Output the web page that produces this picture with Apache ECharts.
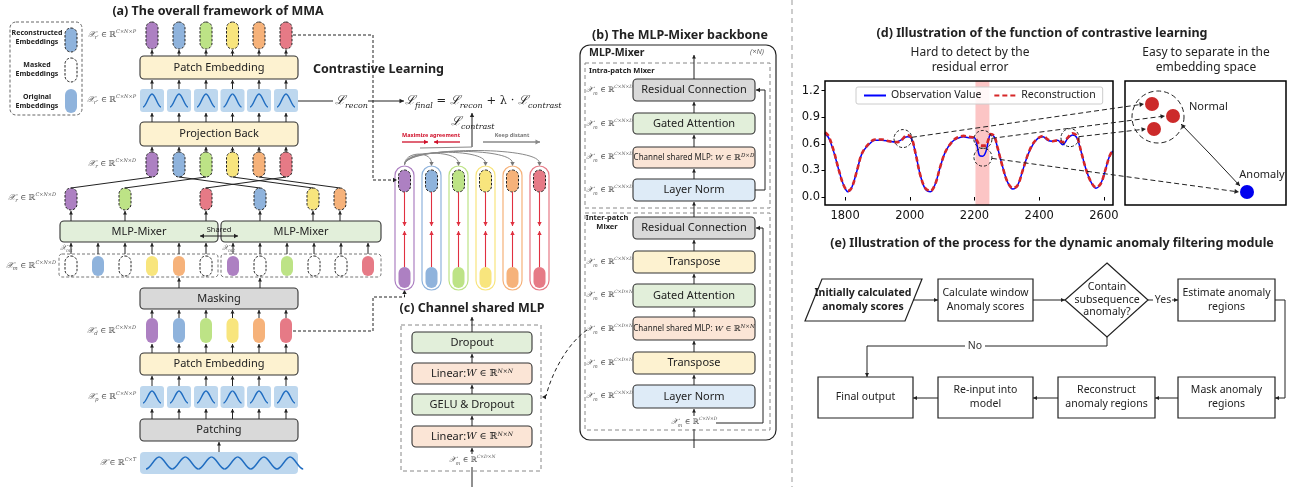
<!DOCTYPE html>
<html><head><meta charset="utf-8">
<script src="https://cdn.jsdelivr.net/npm/echarts@6/dist/echarts.min.js"></script>
<style>html,body{margin:0;padding:0;background:#fff}#c{width:1293px;height:487px}</style>
</head><body><div id="c"></div>
<script>
// ---------- panel (d) data ----------
const timeIndex = [1738,1749,1765,1781,1796,1809,1821,1837,1852,1873,1893,1914,1935,1955,1971,1992,2005,2018,2033,2048,2064,2079,2094,2110,2130,2146,2166,2182,2199,2207,2215,2225,2235,2243,2250,2261,2271,2287,2302,2318,2333,2349,2364,2380,2395,2412,2426,2442,2457,2473,2488,2503,2516,2529,2544,2560,2575,2590,2604,2616,2627];
const observation = [0.71,0.67,0.51,0.30,0.13,0.06,0.11,0.30,0.49,0.59,0.64,0.64,0.63,0.62,0.64,0.68,0.66,0.49,0.24,0.09,0.06,0.15,0.34,0.51,0.62,0.66,0.68,0.67,0.67,0.60,0.47,0.46,0.51,0.64,0.71,0.68,0.56,0.34,0.17,0.09,0.13,0.30,0.47,0.59,0.66,0.68,0.64,0.63,0.64,0.59,0.66,0.70,0.67,0.52,0.32,0.17,0.10,0.15,0.30,0.45,0.52];
const reconstruction = [0.73,0.69,0.52,0.30,0.13,0.07,0.11,0.30,0.49,0.60,0.65,0.65,0.63,0.62,0.63,0.70,0.67,0.49,0.24,0.10,0.07,0.15,0.34,0.51,0.62,0.67,0.69,0.68,0.67,0.64,0.59,0.58,0.58,0.65,0.71,0.69,0.56,0.34,0.17,0.10,0.13,0.30,0.47,0.60,0.66,0.69,0.65,0.63,0.64,0.62,0.67,0.72,0.69,0.52,0.32,0.17,0.11,0.15,0.30,0.45,0.53];
const xTickValues = [1800,2000,2200,2400,2600];
const yTickValues = [0.0,0.3,0.6,0.9,1.2];
const anomalyBand = [2203,2246];
const seriesNames = ['Observation Value','Reconstruction'];
const circledPoints = [[1979,0.66],[2226,0.65],[2226,0.45],[2495,0.67]];
// ---------- diagram texts ----------
const patchColors = ['#ad80c2','#8fb3dc','#bde386','#f8e57d','#f6b27a','#e67a86'];
const flowLabels = ['Initially calculated\nanomaly scores','Calculate window\nAnomaly scores','Contain\nsubsequence\nanomaly?','Estimate anomaly\nregions','Mask anomaly\nregions','Reconstruct\nanomaly regions','Re-input into\nmodel','Final output'];
const intraBlocks = ['Residual Connection','Gated Attention','Channel shared MLP','Layer Norm'];
const interBlocks = ['Residual Connection','Transpose','Gated Attention','Channel shared MLP','Transpose','Layer Norm'];

const FONT = '"Noto Sans","Open Sans",sans-serif';
const SERIF = '"DejaVu Serif","Liberation Serif",serif';
const G = [];
function R(x,y,w,h,o={}){G.push({type:'rect',z:o.z??10,shape:{x,y,width:w,height:h,r:o.r??0},style:{fill:o.fill??'none',stroke:o.stroke??'none',lineWidth:o.lw??1,lineDash:o.dash??null}});}
function P(pts,o={}){G.push({type:'polyline',z:o.z??12,shape:{points:pts},style:{fill:'none',stroke:o.stroke??'#222',lineWidth:o.lw??1,lineDash:o.dash??null}});}
function H(x,y,ang,o={}){const s=o.size??4.5,w=o.hw??2.3;const bx=x-s*Math.cos(ang),by=y-s*Math.sin(ang);const px=-Math.sin(ang)*w,py=Math.cos(ang)*w;G.push({type:'polygon',z:o.z??13,shape:{points:[[x,y],[bx+px,by+py],[bx-px,by-py]]},style:{fill:o.stroke??'#222'}});}
function A(pts,o={}){P(pts,o);const n=pts.length;const a=pts[n-2],b=pts[n-1];H(b[0],b[1],Math.atan2(b[1]-a[1],b[0]-a[0]),o);}
function UP(x,y1,y2){A([[x,y1],[x,y2]],{size:3.5,hw:2,lw:1});}
function T(x,y,text,o={}){G.push({type:'text',z:o.z??20,x,y,style:{text,fill:o.color??'#222',fontSize:o.fs??11,fontWeight:o.fw??'normal',fontStyle:o.fst??'normal',fontFamily:o.ff??FONT,align:o.align??'center',verticalAlign:o.va??'middle',lineHeight:o.lh,rich:o.rich}});}
function B(x1,y1,c1x,c1y,c2x,c2y,x2,y2,o={}){G.push({type:'bezierCurve',z:o.z??12,shape:{x1,y1,x2,y2,cpx1:c1x,cpy1:c1y,cpx2:c2x,cpy2:c2y},style:{fill:'none',stroke:o.stroke??'#222',lineWidth:o.lw??1,lineDash:o.dash??null}});}
function C(cx,cy,r,o={}){G.push({type:'circle',z:o.z??15,shape:{cx,cy,r},style:{fill:o.fill??'none',stroke:o.stroke??'none',lineWidth:o.lw??1,lineDash:o.dash??null}});}
function PG(pts,o={}){G.push({type:'polygon',z:o.z??10,shape:{points:pts},style:{fill:o.fill??'#fff',stroke:o.stroke??'#222',lineWidth:o.lw??1}});}
function BOX(x,y,w,h,fill,label,o={}){R(x,y,w,h,{fill,stroke:o.stroke??'#333',lw:o.lw??1.1,r:o.r??4});if(label!==null)T(x+w/2,y+h/2+(o.dy??0),label,{fs:o.fs??11,rich:o.rich,fw:o.fw,lh:o.lh});}
function cap(cx,y,h,color,mode,w){w=w||12;R(cx-w/2,y,w,h,{r:w/2,fill:mode==='masked'?'#fff':color,stroke:mode==='orig'?'none':'#222',dash:mode==='orig'?null:[2.5,1.5],lw:1,z:11});}
function mathRich(fs,col){col=col||'#555';return {
 i:{fontFamily:SERIF,fontStyle:'italic',fontSize:fs+0.5,fill:col,color:col,lineHeight:fs+4},
 s:{fontFamily:SERIF,fontStyle:'italic',fontSize:fs-2.5,fill:col,color:col,verticalAlign:'bottom',lineHeight:fs-1},
 n:{fontFamily:SERIF,fontSize:fs,fill:col,color:col},
 p:{fontFamily:SERIF,fontStyle:'italic',fontSize:fs-3,fill:col,color:col,verticalAlign:'top',lineHeight:fs-2},
 t:{fontFamily:FONT,fontSize:fs,fill:'#222',color:'#222'}
};}
function ML(x,y,sub,sup,o={}){const fs=o.fs??8;T(x,y,`{i|𝒳}{s|${sub}}{n| ∈ ℝ}{p|${sup}}`,{align:o.align??'right',rich:mathRich(fs)});}
function smallWave(x,y,w,h){const yb=y+h-5,yt=y+5;const x0=x+3,x1=x+w/2,x2=x+w-3;
 B(x0,yb,x0+(x1-x0)*0.36,yb,x0+(x1-x0)*0.64,yt,x1,yt,{stroke:'#1f6cc0',lw:1.4,z:12});
 B(x1,yt,x1+(x2-x1)*0.36,yt,x1+(x2-x1)*0.64,yb,x2,yb,{stroke:'#1f6cc0',lw:1.4,z:12});}

// ================= panel (a) =================
T(218,11,'(a) The overall framework of MMA',{fs:12.5,fw:'bold'});
R(10,22,72,93,{stroke:'#666',dash:[3,2],r:6});
T(37,37,'Reconstructed\nEmbeddings',{fs:7,fw:'bold',lh:9});
cap(71,28,24,'#8fb3dc','recon');
T(37,69,'Masked\nEmbeddings',{fs:7,fw:'bold',lh:9});
cap(71,58,24,null,'masked');
T(37,101,'Original\nEmbeddings',{fs:7,fw:'bold',lh:9});
cap(71,89,24,'#8fb3dc','orig');

const colX=[152,179,206,232.5,259,286];
colX.forEach((x,i)=>{cap(x,22,27,patchColors[i],'recon');UP(x,56,50);});
BOX(140,56,158,23,'#fdf2d0','Patch Embedding');
colX.forEach((x,i)=>{R(x-12,89,24,23,{fill:'#bdd7ee',r:3});smallWave(x-12,89,24,23);UP(x,89,80);});
BOX(140,122,158,24,'#fdf2d0','Projection Back');
colX.forEach((x,i)=>{UP(x,122,113);cap(x,152,25,patchColors[i],'recon');UP(x,152,147);});
const outs=[[71,0],[125,2],[206,5],[260,1],[313,3],[340,4]];
outs.forEach(([x,k])=>{P([[x,188],[colX[k],177]],{lw:1});cap(x,188,22,patchColors[k],'recon');UP(x,221,211);});
BOX(60,221,158,21,'#e2efda','MLP-Mixer');
BOX(221,221,160,21,'#e2efda','MLP-Mixer');
R(59,254,159,23,{stroke:'#777',dash:[3,2],r:3});
R(221,254,160,23,{stroke:'#777',dash:[3,2],r:3});
const mask1=[0,2,5],mask2=[1,3,4];
for(let i=0;i<6;i++){const x1=71+27*i,x2=233+27*i;
 cap(x1,256,20,patchColors[i],mask1.includes(i)?'masked':'orig');UP(x1,254,243);
 cap(x2,256,20,patchColors[i],mask2.includes(i)?'masked':'orig');UP(x2,254,243);}
T(60,248,'{i|𝒳}{s|m1}',{align:'left',rich:mathRich(7)});
T(222,248,'{i|𝒳}{s|m2}',{align:'left',rich:mathRich(7)});
A([[219,236],[238,236]],{size:4,hw:2.2,z:30});A([[219,236],[200,236]],{size:4,hw:2.2,z:30});
T(219,230,'Shared',{fs:7.5,z:31});
BOX(140,288,158,21,'#d9d9d9','Masking');
UP(179,288,278);UP(260,288,278);
colX.forEach((x,i)=>{cap(x,318,25,patchColors[i],'orig');UP(x,318,310);UP(x,353,344);});
BOX(140,353,158,22,'#fdf2d0','Patch Embedding');
colX.forEach((x,i)=>{R(x-12,386,24,22,{fill:'#bdd7ee',r:3});smallWave(x-12,386,24,22);UP(x,386,376);UP(x,419,409);});
BOX(140,419,158,22,'#d9d9d9','Patching');
UP(219,452,442);
R(140,452,158,22,{fill:'#bdd7ee',r:4});
for(let i=0;i<6;i++){const xa=146+26.2*i,xm=xa+13.1,xb=xa+26.2,yb=469,yt=457;
 B(xa,yb,xa+4.7,yb,xm-4.7,yt,xm,yt,{stroke:'#1f6cc0',lw:1.4});B(xm,yt,xm+4.7,yt,xb-4.7,yb,xb,yb,{stroke:'#1f6cc0',lw:1.4});}
ML(136,35,'r′','C×N×P');ML(136,100,'r″','C×N×P');ML(136,164,'r','C×N×D');
ML(56,198,'r','C×N×D');ML(56,266,'m','C×N×D');ML(136,331,'d','C×N×D');
ML(136,397,'p','C×N×P');T(136,463,'{i|𝒳}{n| ∈ ℝ}{p|C×T}',{align:'right',rich:mathRich(8)});
P([[293,35],[373,35],[373,180],[393,180]],{dash:[3,2]});H(397,180,0,{size:4,hw:2.2});
P([[293,331],[373,331],[373,297],[404.5,297],[404.5,294]],{dash:[3,2]});H(404.5,290,-Math.PI/2,{size:4,hw:2.2});

// ===== contrastive learning =====
T(313,69,'Contrastive Learning',{fs:12.5,fw:'bold',align:'left'});
const Lr={L:{fontFamily:SERIF,fontStyle:'italic',fontSize:12.5,fill:'#222',lineHeight:17},s:{fontFamily:SERIF,fontStyle:'italic',fontSize:8,fill:'#222',verticalAlign:'bottom',lineHeight:9},n:{fontFamily:SERIF,fontSize:11.5,fill:'#222'}};
P([[298,101],[333,101]]);
T(335,101,'{L|ℒ}{s|recon}',{align:'left',rich:Lr});
A([[368,101],[404,101]],{size:4.5,hw:2.3});
T(405,101,'{L|ℒ}{s|final}{n| = }{L|ℒ}{s|recon}{n| + λ · }{L|ℒ}{s|contrast}',{align:'left',rich:Lr});
T(451,122,'{L|ℒ}{s|contrast}',{align:'left',rich:Lr});
A([[472,147],[472,113]],{size:4,hw:2.2});
T(431,135,'Maximize agreement',{fs:5.5,fw:'bold',color:'#d0102a'});
A([[402,142],[428,142]],{stroke:'#d0102a',lw:1.3,size:4,hw:2.2});A([[460,142],[434,142]],{stroke:'#d0102a',lw:1.3,size:4,hw:2.2});
T(512,135,'Keep distant',{fs:5.5,fw:'bold',color:'#777'});
A([[483,142],[540,142]],{stroke:'#888',lw:1.3,size:4.5,hw:2.4});
const cX=[404.5,431.5,458.5,485.5,512.5,539.5];
cX.forEach((x,i)=>{
 R(x-9.5,166,19,124,{r:9.5,stroke:patchColors[i],lw:1.2,fill:'#fff',z:9});
 cap(x,170,22,patchColors[i],'recon');cap(x,267,21,patchColors[i],'orig');
 A([[x,192],[x,226]],{stroke:'#e03040',lw:1.1,size:4,hw:2.2});
 A([[x,267],[x,231]],{stroke:'#e03040',lw:1.1,size:4,hw:2.2});
 if(i>0){const top=152-i*1.2;B(404.5,165,404.5,top,x,top,x,163,{stroke:'#888',lw:1});H(x,166,Math.PI/2,{stroke:'#777',size:4,hw:2.2});}
});
P([[420,148],[472,147]],{stroke:'#888',lw:1});

// ================= panel (c) =================
T(472,308,'(c) Channel shared MLP',{fs:12.5,fw:'bold'});
R(401,325,140,146,{stroke:'#888',dash:[4,3]});
const linRich={t:{fontFamily:FONT,fontSize:11,fill:'#222'},w:{fontFamily:SERIF,fontStyle:'italic',fontSize:10,fill:'#222'},n:{fontFamily:SERIF,fontSize:9.5,fill:'#222'},p:{fontFamily:SERIF,fontStyle:'italic',fontSize:6,fill:'#222',verticalAlign:'top',lineHeight:10}};
BOX(412,332,120,21,'#e2efda','Dropout');
BOX(412,363,120,21,'#fbe5d6','{t|Linear:}{w|W}{n| ∈ ℝ}{p|N×N}',{rich:linRich});
BOX(412,394,120,21,'#e2efda','GELU & Dropout');
BOX(412,426,120,21,'#fbe5d6','{t|Linear:}{w|W}{n| ∈ ℝ}{p|N×N}',{rich:linRich});
T(472,460,'{i|𝒳}{s|m}{n| ∈ ℝ}{p|C×D×N}',{rich:mathRich(7.5)});
P([[472,487],[472,467]]);UP(472,454,448);UP(472,426,416);UP(472,394,385);UP(472,363,354);UP(472,332,317);
B(587,330,568,343,552,372,546,396,{dash:[4,3]});H(542,397,Math.PI,{size:4,hw:2.2});

// ================= panel (b) =================
T(680,35,'(b) The MLP-Mixer backbone',{fs:12.5,fw:'bold'});
R(580,45,196,395,{stroke:'#222',lw:1.2,r:10});
T(589,53,'MLP-Mixer',{fs:10.5,fw:'bold',align:'left'});
T(757,52,'(×N)',{fs:7.5,color:'#666',fst:'italic'});
R(585,63,185,145,{stroke:'#888',dash:[4,3]});
T(589,71,'Intra-patch Mixer',{fs:7.5,fw:'bold',align:'left'});
const chRich=()=>({t:{fontFamily:FONT,fontSize:8,fill:'#222'},w:{fontFamily:SERIF,fontStyle:'italic',fontSize:8,fill:'#222'},n:{fontFamily:SERIF,fontSize:8,fill:'#222'},p:{fontFamily:SERIF,fontStyle:'italic',fontSize:5.5,fill:'#222',verticalAlign:'top',lineHeight:9}});
BOX(633,79,122,22,'#d9d9d9',intraBlocks[0]);
BOX(633,113,122,21,'#e2efda',intraBlocks[1]);
BOX(633,147,122,21,'#fbe5d6',`{t|${intraBlocks[2]}: }{w|W}{n| ∈ ℝ}{p|D×D}`,{rich:chRich()});
BOX(633,179,122,22,'#deebf7',intraBlocks[3]);
[[90,'C×N×D'],[124,'C×N×D'],[157,'C×N×D'],[190,'C×N×D']].forEach(([y,s])=>T(586,y,`{i|𝒳}{s|m}{n| ∈ ℝ}{p|${s}}`,{align:'left',rich:mathRich(7.5)}));
UP(694,79,55);UP(694,113,102);UP(694,147,135);UP(694,179,169);UP(694,217,202);
A([[755,190],[765,190],[765,90],[756,90]],{size:4,hw:2.2});
R(585,213,185,217,{stroke:'#888',dash:[4,3]});
T(607,222,'Inter-patch\nMixer',{fs:7.5,fw:'bold',lh:9});
BOX(633,217,122,22,'#d9d9d9',interBlocks[0]);
BOX(633,251,122,22,'#fdf2d0',interBlocks[1]);
BOX(633,284,122,23,'#e2efda',interBlocks[2]);
BOX(633,317,122,23,'#fbe5d6',`{t|${interBlocks[3]}: }{w|W}{n| ∈ ℝ}{p|N×N}`,{rich:chRich()});
BOX(633,352,122,22,'#fdf2d0',interBlocks[4]);
BOX(633,385,122,23,'#deebf7',interBlocks[5]);
[[262,'C×N×D'],[295,'C×D×N'],[329,'C×D×N'],[363,'C×D×N'],[396,'C×N×D']].forEach(([y,s])=>T(586,y,`{i|𝒳}{s|m}{n| ∈ ℝ}{p|${s}}`,{align:'left',rich:mathRich(7.5)}));
T(694,422,'{i|𝒳}{s|m}{n| ∈ ℝ}{p|C×N×D}',{rich:mathRich(7.5)});
UP(694,251,240);UP(694,284,274);UP(694,317,308);UP(694,352,341);UP(694,385,375);UP(694,416,409);
P([[694,448],[694,429]]);
A([[716,423],[763,423],[763,228],[756,228]],{size:4,hw:2.2});

P([[792,0],[792,487]],{stroke:'#999',dash:[5,4]});

// ================= panel (d) texts =================
T(1042,33,'(d) Illustration of the function of contrastive learning',{fs:12.5,fw:'bold'});
T(970,60,'Hard to detect by the\nresidual error',{fs:12,lh:15});
T(1206,60,'Easy to separate in the\nembedding space',{fs:12,lh:15});
R(1125,81,161,124,{stroke:'#000',lw:1.5,z:5});
const dots=[[1152,104],[1173,116],[1154,129]];
dots.forEach(([x,y])=>C(x,y,7,{fill:'#cc2a2a',z:16}));
C(1158,117,26,{stroke:'#222',dash:[5,3],lw:1});
C(1247,192,7,{fill:'#0000ee',z:16});
T(1189,107,'Normal',{fs:11,align:'left'});
T(1262,175,'Anomaly',{fs:11});
A([[1210,154],[1181,124]],{size:4.5,hw:2.3});A([[1210,154],[1240,186]],{size:4.5,hw:2.3});

// ================= panel (e) =================
T(1052,243,'(e) Illustration of the process for the dynamic anomaly filtering module',{fs:12.5,fw:'bold'});
PG([[822,279],[922,279],[905,321],[805,321]],{lw:1.2});
T(863,300,flowLabels[0],{fs:10.5,fw:'bold',lh:14});
A([[913,300],[938,300]],{size:4,hw:2});
BOX(938,279,95,42,'#fff',flowLabels[1],{r:0,stroke:'#222',lw:1.2,fs:10.5,lh:14});
A([[1033,300],[1065,300]],{size:4,hw:2});
PG([[1107,263],[1148,300],[1107,337],[1065,300]],{lw:1.2});
T(1107,300,flowLabels[2],{fs:10.5,lh:12.5});
P([[1148,300],[1153,300]]);T(1163,300,'Yes',{fs:10.5,color:'#333'});A([[1172,300],[1178,300]],{size:4,hw:2});
BOX(1178,279,97,42,'#fff',flowLabels[3],{r:0,stroke:'#222',lw:1.2,fs:10.5,lh:14});
A([[1275,300],[1285,300],[1285,398],[1275,398]],{size:4,hw:2});
BOX(1178,377,97,41,'#fff',flowLabels[4],{r:0,stroke:'#222',lw:1.2,fs:10.5,lh:14});
A([[1178,398],[1155,398]],{size:4,hw:2});
BOX(1058,377,97,41,'#fff',flowLabels[5],{r:0,stroke:'#222',lw:1.2,fs:10.5,lh:14});
A([[1058,398],[1033,398]],{size:4,hw:2});
BOX(938,377,95,41,'#fff',flowLabels[6],{r:0,stroke:'#222',lw:1.2,fs:10.5,lh:14});
A([[938,398],[913,398]],{size:4,hw:2});
BOX(818,377,95,41,'#fff',flowLabels[7],{r:0,stroke:'#222',lw:1.2,fs:10.5,lh:14});
P([[1107,337],[1107,346],[985,346]]);T(975,346,'No',{fs:10.5,color:'#333'});A([[965,346],[867,346],[867,377]],{size:4,hw:2});

// ================= chart =================
const chart = echarts.init(document.getElementById('c'),null,{renderer:'canvas'});
const option = {
 animation:false,
 backgroundColor:'#fff',
 grid:{left:825,top:81,width:288,height:124,show:true,borderColor:'#000',borderWidth:1.5,backgroundColor:'transparent',z:6},
 xAxis:{type:'value',min:1738,max:2628,axisLine:{show:false},splitLine:{show:false},
  axisTick:{show:true,customValues:xTickValues,length:3.5,lineStyle:{color:'#000',width:1}},
  axisLabel:{customValues:xTickValues,fontSize:11.5,color:'#111',margin:5,fontFamily:'DejaVu Sans',formatter:v=>String(v)}},
 yAxis:{type:'value',min:-0.09,max:1.31,axisLine:{show:false},splitLine:{show:false},
  axisTick:{show:true,customValues:yTickValues,length:3.5,lineStyle:{color:'#000',width:1}},
  axisLabel:{customValues:yTickValues,fontSize:11.5,color:'#111',margin:5,fontFamily:'DejaVu Sans',formatter:v=>Number(v).toFixed(1)}},
 legend:{left:856,top:87,itemWidth:22,itemHeight:8,itemGap:12,padding:[3,7],borderColor:'#ccc',borderWidth:1,borderRadius:2,backgroundColor:'rgba(255,255,255,0.85)',
  itemStyle:{color:'transparent',borderColor:'transparent',borderWidth:0,opacity:0},
  textStyle:{fontSize:10.5,color:'#222',fontFamily:FONT},data:seriesNames},
 series:[
  {type:'line',name:seriesNames[0],data:timeIndex.map((t,i)=>[t,observation[i]]),smooth:0.35,symbol:'none',z:3,
   lineStyle:{color:'#0000ff',width:1.5},itemStyle:{color:'#0000ff'},
   markArea:{silent:true,itemStyle:{color:'rgba(250,150,150,0.55)'},data:[[{xAxis:anomalyBand[0]},{xAxis:anomalyBand[1]}]]}},
  {type:'line',name:seriesNames[1],data:timeIndex.map((t,i)=>[t,reconstruction[i]]),smooth:0.35,symbol:'none',z:4,
   lineStyle:{color:'#d62728',width:2.6,type:[5,3]},itemStyle:{color:'#d62728'}}
 ]
};
chart.setOption(option);
const cp = circledPoints.map(p=>chart.convertToPixel({gridIndex:0},p));
cp.forEach(([x,y])=>C(x,y,9,{stroke:'#222',dash:[3,2],lw:1,z:40}));
const targets=[[dots[0][0]-8,dots[0][1]],[dots[1][0]-8,dots[1][1]],[1247-8,192],[dots[2][0]-8,dots[2][1]]];
cp.forEach(([x,y],i)=>{const [tx,ty]=targets[i];const ang=Math.atan2(ty-y,tx-x);const sx=x+9*Math.cos(ang),sy=y+9*Math.sin(ang);
 P([[sx,sy],[tx-3*Math.cos(ang),ty-3*Math.sin(ang)]],{dash:[5,3],lw:1,z:40});H(tx,ty,ang,{size:4.5,hw:2.3,z:41});});
chart.setOption({graphic:{elements:G}});
</script></body></html>
